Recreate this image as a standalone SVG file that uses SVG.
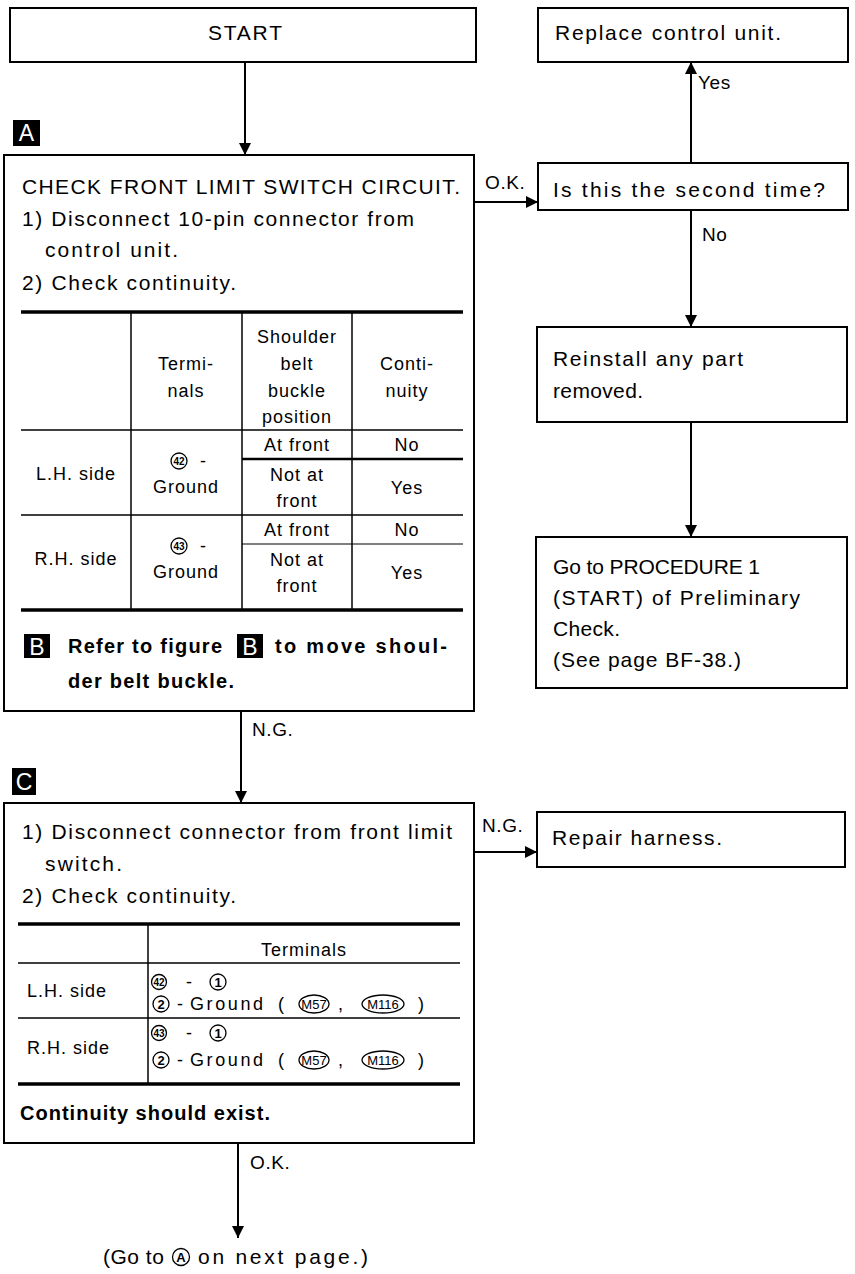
<svg xmlns="http://www.w3.org/2000/svg" width="855" height="1274" viewBox="0 0 855 1274">
<style>
.box{fill:#fff;stroke:#000;stroke-width:2}
.t{font-family:"Liberation Sans",Arial,sans-serif;font-size:21px;fill:#000}
.tb{font-family:"Liberation Sans",Arial,sans-serif;font-size:20px;font-weight:bold;fill:#000}
.tc{font-family:"Liberation Sans",Arial,sans-serif;font-size:18px;letter-spacing:1px;fill:#000;text-anchor:middle}
.tl{font-family:"Liberation Sans",Arial,sans-serif;font-size:18px;letter-spacing:1px;fill:#000}
.lab{font-family:"Liberation Sans",Arial,sans-serif;font-size:19px;letter-spacing:0.6px;fill:#000}
.mk{fill:#000}
.mkt{font-family:"Liberation Sans",Arial,sans-serif;font-size:23px;fill:#fff;text-anchor:middle}
.thick{stroke:#000;stroke-width:3.5}
.thin{stroke:#000;stroke-width:1.5}
.circ{fill:none;stroke:#000;stroke-width:1.3}
.cn{font-family:"Liberation Sans",Arial,sans-serif;font-size:10px;font-weight:bold;fill:#000;text-anchor:middle}
.cn1{font-family:"Liberation Sans",Arial,sans-serif;font-size:13px;font-weight:bold;fill:#000;text-anchor:middle}
.cm{font-family:"Liberation Sans",Arial,sans-serif;font-size:13px;fill:#000;text-anchor:middle}
.conn{stroke:#000;stroke-width:2;fill:none}
</style>
<defs>
<marker id="arr" markerUnits="userSpaceOnUse" markerWidth="12" markerHeight="12" viewBox="0 0 12 12" refX="12" refY="6" orient="auto">
<path d="M0,0 L12,6 L0,12 Z" fill="#000"/>
</marker>
</defs>

<g id="connectors">
<line class="conn" x1="245" y1="62" x2="245" y2="155" marker-end="url(#arr)"/>
<line class="conn" x1="474" y1="202" x2="538" y2="202" marker-end="url(#arr)"/>
<line class="conn" x1="691" y1="163" x2="691" y2="62" marker-end="url(#arr)"/>
<line class="conn" x1="691" y1="210" x2="691" y2="327" marker-end="url(#arr)"/>
<line class="conn" x1="691" y1="422" x2="691" y2="537" marker-end="url(#arr)"/>
<line class="conn" x1="241" y1="711" x2="241" y2="803" marker-end="url(#arr)"/>
<line class="conn" x1="474" y1="852" x2="537" y2="852" marker-end="url(#arr)"/>
<line class="conn" x1="238" y1="1143" x2="238" y2="1238" marker-end="url(#arr)"/>
<text class="lab" x="485" y="189">O.K.</text>
<text class="lab" x="698" y="89">Yes</text>
<text class="lab" x="702" y="241">No</text>
<text class="lab" x="252" y="736">N.G.</text>
<text class="lab" x="482" y="832">N.G.</text>
<text class="lab" x="250" y="1169">O.K.</text>
</g>

<g id="start">
<rect class="box" x="10" y="8" width="466" height="54"/>
<text class="t" x="245" y="40" text-anchor="middle" textLength="74" lengthAdjust="spacing">START</text>
</g>

<g id="replace">
<rect class="box" x="538" y="8" width="310" height="54"/>
<text class="t" x="555" y="40" textLength="226" lengthAdjust="spacing">Replace control unit.</text>
</g>

<g id="second-time">
<rect class="box" x="538" y="163" width="310" height="47"/>
<text class="t" x="553" y="197" textLength="272" lengthAdjust="spacing">Is this the second time?</text>
</g>

<g id="reinstall">
<rect class="box" x="537" y="327" width="310" height="95"/>
<text class="t" x="553" y="366" textLength="190" lengthAdjust="spacing">Reinstall any part</text>
<text class="t" x="553" y="398" textLength="90" lengthAdjust="spacing">removed.</text>
</g>

<g id="procedure">
<rect class="box" x="536" y="537" width="311" height="151"/>
<text class="t" x="553" y="574" textLength="207" lengthAdjust="spacing">Go to PROCEDURE 1</text>
<text class="t" x="553" y="605" textLength="247" lengthAdjust="spacing">(START) of Preliminary</text>
<text class="t" x="553" y="636" textLength="67" lengthAdjust="spacing">Check.</text>
<text class="t" x="553" y="667" textLength="188" lengthAdjust="spacing">(See page BF-38.)</text>
</g>

<g id="repair">
<rect class="box" x="537" y="812" width="308" height="55"/>
<text class="t" x="552" y="845" textLength="170" lengthAdjust="spacing">Repair harness.</text>
</g>

<g id="marker-a">
<rect class="mk" x="13" y="120" width="27" height="26"/>
<text class="mkt" x="26.5" y="141">A</text>
</g>

<g id="check-a">
<rect class="box" x="4" y="155" width="470" height="556"/>
<text class="t" x="22" y="194" textLength="438" lengthAdjust="spacing">CHECK FRONT LIMIT SWITCH CIRCUIT.</text>
<text class="t" x="22" y="226" textLength="392" lengthAdjust="spacing">1) Disconnect 10-pin connector from</text>
<text class="t" x="45" y="257" textLength="133" lengthAdjust="spacing">control unit.</text>
<text class="t" x="22" y="290" textLength="214" lengthAdjust="spacing">2) Check continuity.</text>
<line class="thick" x1="21" y1="312" x2="463" y2="312"/>
<line class="thin" x1="131" y1="312" x2="131" y2="610"/>
<line class="thin" x1="242" y1="312" x2="242" y2="610"/>
<line class="thin" x1="352" y1="312" x2="352" y2="610"/>
<line class="thin" x1="21" y1="430" x2="463" y2="430"/>
<line stroke="#000" stroke-width="2.5" x1="242" y1="459" x2="463" y2="459"/>
<line class="thin" x1="21" y1="515" x2="463" y2="515"/>
<line stroke="#000" stroke-width="1.2" x1="242" y1="544" x2="463" y2="544"/>
<line class="thick" x1="21" y1="610" x2="463" y2="610"/>
<text class="tc" x="297" y="343">Shoulder</text>
<text class="tc" x="297" y="370">belt</text>
<text class="tc" x="297" y="397">buckle</text>
<text class="tc" x="297" y="423">position</text>
<text class="tc" x="186" y="370">Termi-</text>
<text class="tc" x="186" y="397">nals</text>
<text class="tc" x="407" y="370">Conti-</text>
<text class="tc" x="407" y="397">nuity</text>
<text class="tc" x="297" y="451">At front</text>
<text class="tc" x="407" y="451">No</text>
<text class="tc" x="76" y="480">L.H. side</text>
<circle class="circ" cx="179" cy="461" r="8"/>
<text class="cn" x="179" y="464.5">42</text>
<text class="tl" x="200" y="467">-</text>
<text class="tc" x="186" y="493">Ground</text>
<text class="tc" x="297" y="481">Not at</text>
<text class="tc" x="297" y="507">front</text>
<text class="tc" x="407" y="494">Yes</text>
<text class="tc" x="297" y="536">At front</text>
<text class="tc" x="407" y="536">No</text>
<text class="tc" x="76" y="565">R.H. side</text>
<circle class="circ" cx="179" cy="546" r="8"/>
<text class="cn" x="179" y="549.5">43</text>
<text class="tl" x="200" y="552">-</text>
<text class="tc" x="186" y="578">Ground</text>
<text class="tc" x="297" y="566">Not at</text>
<text class="tc" x="297" y="592">front</text>
<text class="tc" x="407" y="579">Yes</text>
<rect class="mk" x="24" y="634" width="26" height="24"/>
<text class="mkt" x="37" y="655">B</text>
<text class="tb" x="68" y="653" textLength="154" lengthAdjust="spacing">Refer to figure</text>
<rect class="mk" x="237" y="634" width="26" height="24"/>
<text class="mkt" x="250" y="655">B</text>
<text class="tb" x="275" y="653" textLength="172" lengthAdjust="spacing">to move shoul-</text>
<text class="tb" x="68" y="688" textLength="166" lengthAdjust="spacing">der belt buckle.</text>
</g>

<g id="marker-c">
<rect class="mk" x="12" y="768" width="24" height="27"/>
<text class="mkt" x="24" y="790">C</text>
</g>

<g id="check-c">
<rect class="box" x="4" y="803" width="470" height="340"/>
<text class="t" x="22" y="839" textLength="430" lengthAdjust="spacing">1) Disconnect connector from front limit</text>
<text class="t" x="45" y="871" textLength="77" lengthAdjust="spacing">switch.</text>
<text class="t" x="22" y="903" textLength="214" lengthAdjust="spacing">2) Check continuity.</text>
<line class="thick" x1="18" y1="924" x2="460" y2="924"/>
<line class="thin" x1="148" y1="924" x2="148" y2="1084"/>
<line class="thin" x1="18" y1="963" x2="460" y2="963"/>
<line class="thin" x1="18" y1="1018" x2="460" y2="1018"/>
<line class="thick" x1="18" y1="1084" x2="460" y2="1084"/>
<text class="tc" x="304" y="956">Terminals</text>
<text class="tl" x="27" y="997">L.H. side</text>
<text class="tl" x="27" y="1054">R.H. side</text>
<circle class="circ" cx="159" cy="982" r="7.5"/>
<text class="cn" x="159" y="985.5">42</text>
<text class="tl" x="186" y="988">-</text>
<circle class="circ" cx="218" cy="982" r="8"/>
<text class="cn1" x="218" y="986.5">1</text>
<circle class="circ" cx="161" cy="1004" r="8"/>
<text class="cn1" x="161" y="1008.5">2</text>
<text class="tl" x="177" y="1010">-</text>
<text class="tl" x="190" y="1010" font-size="19" textLength="74" lengthAdjust="spacing">Ground</text>
<text class="tl" x="278" y="1010">(</text>
<ellipse class="circ" cx="314" cy="1004" rx="15" ry="9"/>
<text class="cm" x="314" y="1008.5">M57</text>
<text class="tl" x="338" y="1010">,</text>
<ellipse class="circ" cx="383" cy="1004" rx="21" ry="9"/>
<text class="cm" x="383" y="1008.5">M116</text>
<text class="tl" x="418" y="1010">)</text>
<circle class="circ" cx="159" cy="1033" r="7.5"/>
<text class="cn" x="159" y="1036.5">43</text>
<text class="tl" x="186" y="1039">-</text>
<circle class="circ" cx="218" cy="1033" r="8"/>
<text class="cn1" x="218" y="1037.5">1</text>
<circle class="circ" cx="161" cy="1060" r="8"/>
<text class="cn1" x="161" y="1064.5">2</text>
<text class="tl" x="177" y="1066">-</text>
<text class="tl" x="190" y="1066" font-size="19" textLength="74" lengthAdjust="spacing">Ground</text>
<text class="tl" x="278" y="1066">(</text>
<ellipse class="circ" cx="314" cy="1060" rx="15" ry="9"/>
<text class="cm" x="314" y="1064.5">M57</text>
<text class="tl" x="338" y="1066">,</text>
<ellipse class="circ" cx="383" cy="1060" rx="21" ry="9"/>
<text class="cm" x="383" y="1064.5">M116</text>
<text class="tl" x="418" y="1066">)</text>
<text class="tb" x="20" y="1120" textLength="250" lengthAdjust="spacing">Continuity should exist.</text>
</g>

<g id="next-page">
<text class="t" x="103" y="1264" letter-spacing="0.5">(Go to</text>
<circle class="circ" cx="181" cy="1257" r="8.5"/>
<text class="cn1" x="181" y="1261.5">A</text>
<text class="t" x="198" y="1264" textLength="170" lengthAdjust="spacing">on next page.)</text>
</g>
</svg>
